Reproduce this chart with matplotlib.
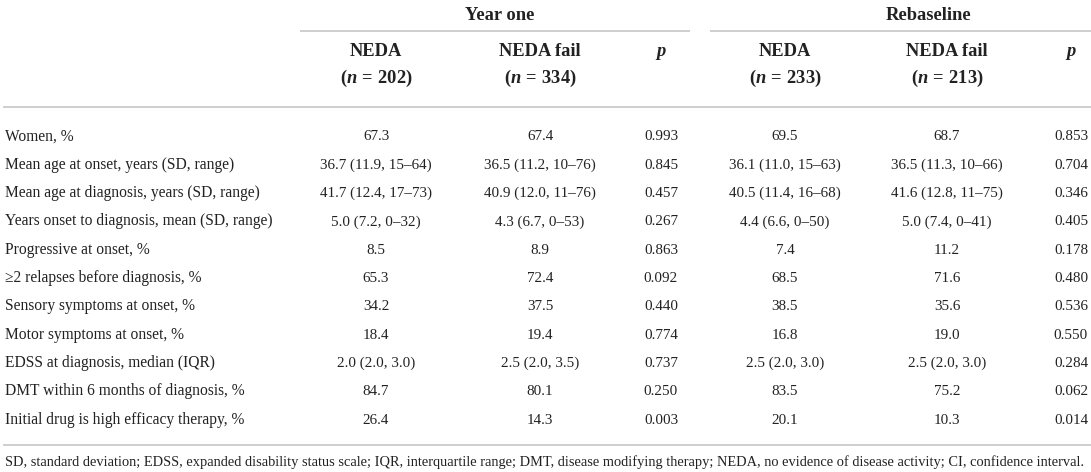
import matplotlib
matplotlib.use("Agg")
import matplotlib.pyplot as plt

plt.rcParams['font.family'] = ['Liberation Serif', 'DejaVu Serif']
plt.rcParams['mathtext.fontset'] = 'custom'
plt.rcParams['mathtext.rm'] = 'Liberation Serif:bold'
plt.rcParams['mathtext.it'] = 'Liberation Serif:bold:italic'
plt.rcParams['mathtext.bf'] = 'Liberation Serif:bold'

groups = ["Year one", "Rebaseline"]
col_heads = ["NEDA", "NEDA fail", "p", "NEDA", "NEDA fail", "p"]
col_ns = [202, 334, None, 233, 213, None]

row_labels = [
    "Women, %",
    "Mean age at onset, years (SD, range)",
    "Mean age at diagnosis, years (SD, range)",
    "Years onset to diagnosis, mean (SD, range)",
    "Progressive at onset, %",
    "\u22652 relapses before diagnosis, %",
    "Sensory symptoms at onset, %",
    "Motor symptoms at onset, %",
    "EDSS at diagnosis, median (IQR)",
    "DMT within 6 months of diagnosis, %",
    "Initial drug is high efficacy therapy, %",
]
y1_neda = ["67.3", "36.7 (11.9, 15\u201364)", "41.7 (12.4, 17\u201373)", "5.0 (7.2, 0\u201332)",
           "8.5", "65.3", "34.2", "18.4", "2.0 (2.0, 3.0)", "84.7", "26.4"]
y1_fail = ["67.4", "36.5 (11.2, 10\u201376)", "40.9 (12.0, 11\u201376)", "4.3 (6.7, 0\u201353)",
           "8.9", "72.4", "37.5", "19.4", "2.5 (2.0, 3.5)", "80.1", "14.3"]
y1_p = ["0.993", "0.845", "0.457", "0.267", "0.863", "0.092", "0.440", "0.774", "0.737", "0.250", "0.003"]
rb_neda = ["69.5", "36.1 (11.0, 15\u201363)", "40.5 (11.4, 16\u201368)", "4.4 (6.6, 0\u201350)",
           "7.4", "68.5", "38.5", "16.8", "2.5 (2.0, 3.0)", "83.5", "20.1"]
rb_fail = ["68.7", "36.5 (11.3, 10\u201366)", "41.6 (12.8, 11\u201375)", "5.0 (7.4, 0\u201341)",
           "11.2", "71.6", "35.6", "19.0", "2.5 (2.0, 3.0)", "75.2", "10.3"]
rb_p = ["0.853", "0.704", "0.346", "0.405", "0.178", "0.480", "0.536", "0.550", "0.284", "0.062", "0.014"]

footnote = ("SD, standard deviation; EDSS, expanded disability status scale; IQR, interquartile range; "
            "DMT, disease modifying therapy; NEDA, no evidence of disease activity; CI, confidence interval.")

W, H = 1091, 472
fig = plt.figure(figsize=(W / 100, H / 100), dpi=100)
ax = fig.add_axes([0, 0, 1, 1])
ax.set_xlim(0, W)
ax.set_ylim(H, 0)
ax.axis('off')

txt = '#222222'
line_c = '#cfcfcf'
lab_fs = 11.2
num_fs = 10.9
hfs = 13.3

col_x = [376, 540, 661, 785, 947, 1071]
group_x = [500, 928]
group_spans = [(300, 690), (710, 1091)]
row_base0, row_dy = 140.5, 28.3

for g, gx, (a, b) in zip(groups, group_x, group_spans):
    ax.text(gx, 19.5, g, ha='center', va='baseline', fontsize=hfs, fontweight='bold', color=txt)
    ax.plot([a, b], [30.5, 30.5], color=line_c, lw=1.4, solid_capstyle='butt')

for x, h, n in zip(col_x, col_heads, col_ns):
    if n is None:
        ax.text(x, 56, h, ha='center', va='baseline', fontsize=hfs, fontweight='bold',
                fontstyle='italic', color=txt)
    else:
        ax.text(x, 56, h, ha='center', va='baseline', fontsize=hfs, fontweight='bold', color=txt)
        ax.text(x, 83, r"$(n\,=\,%d)$" % n, ha='center', va='baseline', fontsize=hfs, color=txt)

ax.plot([3, W], [106.5, 106.5], color=line_c, lw=1.4, solid_capstyle='butt')

cols = [y1_neda, y1_fail, y1_p, rb_neda, rb_fail, rb_p]
for i, lab in enumerate(row_labels):
    y = row_base0 + i * row_dy
    ax.text(5, y, lab, ha='left', va='baseline', fontsize=lab_fs, color=txt)
    for x, col in zip(col_x, cols):
        ax.text(x, y, col[i], ha='center', va='baseline', fontsize=num_fs, color=txt)

ax.plot([3, W], [444.5, 444.5], color=line_c, lw=1.4, solid_capstyle='butt')
ax.text(5, 466, footnote, ha='left', va='baseline', fontsize=10.35, color=txt)

fig.savefig('out.png', dpi=100, facecolor='white')
